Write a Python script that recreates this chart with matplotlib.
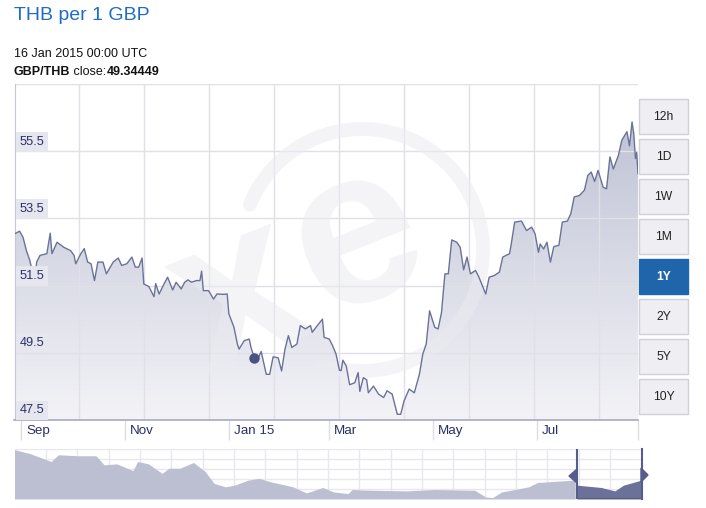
import numpy as np
import pandas as pd
import matplotlib
matplotlib.use("Agg")
import matplotlib.pyplot as plt
import matplotlib.dates as mdates
from matplotlib.colors import LinearSegmentedColormap
from matplotlib.patches import Rectangle, Polygon, Arc, PathPatch
from matplotlib.path import Path
from matplotlib.transforms import Affine2D, ScaledTranslation, blended_transform_factory

plt.rcParams['font.family'] = ['Liberation Sans', 'DejaVu Sans']

W, H = 706, 508

# GBP/THB, last year
dates = [
    '2014-08-28', '2014-08-31', '2014-09-02', '2014-09-04', '2014-09-06', '2014-09-08',
    '2014-09-09', '2014-09-10', '2014-09-12', '2014-09-16', '2014-09-18', '2014-09-19',
    '2014-09-22', '2014-09-26', '2014-09-30', '2014-10-02', '2014-10-03', '2014-10-06',
    '2014-10-08', '2014-10-10', '2014-10-12', '2014-10-14', '2014-10-16', '2014-10-19',
    '2014-10-21', '2014-10-25', '2014-10-28', '2014-10-30', '2014-11-02', '2014-11-05',
    '2014-11-07', '2014-11-09', '2014-11-11', '2014-11-12', '2014-11-15', '2014-11-18',
    '2014-11-19', '2014-11-21', '2014-11-24', '2014-11-26', '2014-11-29', '2014-12-01',
    '2014-12-04', '2014-12-06', '2014-12-08', '2014-12-10', '2014-12-13', '2014-12-15',
    '2014-12-16', '2014-12-17', '2014-12-20', '2014-12-23', '2014-12-25', '2014-12-29',
    '2014-12-31', '2015-01-01', '2015-01-04', '2015-01-06', '2015-01-07', '2015-01-10',
    '2015-01-13', '2015-01-14', '2015-01-16', '2015-01-18', '2015-01-20', '2015-01-23',
    '2015-01-25', '2015-01-27', '2015-01-30', '2015-02-01', '2015-02-03', '2015-02-05',
    '2015-02-07', '2015-02-10', '2015-02-12', '2015-02-15', '2015-02-18', '2015-02-19',
    '2015-02-22', '2015-02-25', '2015-02-26', '2015-03-01', '2015-03-03', '2015-03-05',
    '2015-03-07', '2015-03-08', '2015-03-09', '2015-03-11', '2015-03-13', '2015-03-16',
    '2015-03-18', '2015-03-19', '2015-03-21', '2015-03-23', '2015-03-24', '2015-03-27',
    '2015-03-30', '2015-04-02', '2015-04-04', '2015-04-07', '2015-04-10', '2015-04-12',
    '2015-04-14', '2015-04-17', '2015-04-20', '2015-04-23', '2015-04-25', '2015-04-27',
    '2015-04-29', '2015-05-02', '2015-05-04', '2015-05-06', '2015-05-08', '2015-05-10',
    '2015-05-12', '2015-05-15', '2015-05-17', '2015-05-19', '2015-05-21', '2015-05-23',
    '2015-05-26', '2015-05-28', '2015-06-01', '2015-06-03', '2015-06-06', '2015-06-09',
    '2015-06-11', '2015-06-15', '2015-06-16', '2015-06-18', '2015-06-22', '2015-06-25',
    '2015-06-28', '2015-06-30', '2015-07-02', '2015-07-03', '2015-07-05', '2015-07-07',
    '2015-07-09', '2015-07-11', '2015-07-14', '2015-07-16', '2015-07-19', '2015-07-21',
    '2015-07-23', '2015-07-26', '2015-07-29', '2015-07-31', '2015-08-02', '2015-08-04',
    '2015-08-06', '2015-08-09', '2015-08-11', '2015-08-13', '2015-08-15', '2015-08-18',
    '2015-08-20', '2015-08-23', '2015-08-24 12:00', '2015-08-26', '2015-08-27',
    '2015-08-28', '2015-08-28 18:00', '2015-08-29 12:00',
]
rates = [
    53.04, 53.12, 52.94, 52.54, 52.25, 51.80, 51.65, 52.20, 52.40, 52.45, 53.06, 52.45,
    52.79, 52.64, 52.54, 52.40, 52.15, 52.45, 52.60, 52.20, 52.15, 51.65, 52.20, 52.20,
    51.85, 52.20, 52.32, 52.10, 52.15, 52.35, 52.05, 52.05, 52.32, 51.55, 51.47, 51.17,
    51.56, 51.25, 51.56, 51.75, 51.37, 51.60, 51.40, 51.60, 51.67, 51.60, 51.65, 51.65,
    51.93, 51.35, 51.35, 51.10, 51.25, 51.24, 51.25, 50.66, 50.26, 49.76, 49.61, 49.86,
    49.91, 49.66, 49.34449, 49.31, 49.54, 48.86, 48.86, 49.38, 49.35, 48.96, 49.61, 50.01,
    49.66, 49.76, 50.31, 50.21, 50.31, 50.11, 50.31, 50.50, 49.96, 49.91, 49.71, 49.46,
    48.98, 48.97, 49.28, 49.11, 48.55, 48.61, 48.91, 48.35, 48.76, 48.70, 48.31, 48.51,
    48.27, 48.17, 48.37, 48.27, 47.67, 47.67, 48.07, 48.42, 48.31, 48.86, 49.46, 49.76,
    50.75, 50.26, 50.21, 50.70, 51.85, 51.85, 52.86, 52.79, 52.64, 51.97, 52.35, 51.85,
    51.95, 51.75, 51.25, 51.75, 51.80, 51.90, 52.35, 52.45, 52.74, 53.39, 53.42, 53.14,
    53.24, 53.04, 52.49, 52.74, 52.59, 52.79, 52.20, 52.66, 52.70, 53.39, 53.42, 53.64,
    54.14, 54.18, 54.34, 54.78, 54.88, 54.60, 54.93, 54.43, 54.38, 55.33, 54.97, 55.38,
    55.83, 56.08, 55.66, 56.37, 56.03, 55.28, 55.46, 54.83,
]
marker_date = '2015-01-16'
marker_rate = 49.34449

y_ticks = [47.5, 49.5, 51.5, 53.5, 55.5, 57.5]
month_ticks = ['2014-09-01', '2014-11-01', '2015-01-01', '2015-03-01', '2015-05-01', '2015-07-01']
month_labels = ['Sep', 'Nov', 'Jan 15', 'Mar', 'May', 'Jul']
buttons = ['12h', '1D', '1W', '1M', '1Y', '2Y', '5Y', '10Y']
active_button = '1Y'

# long-range navigator series (approximate)
nav_dates = [
    '2005-12-20', '2006-03-20', '2006-07-15', '2006-08-25', '2006-12-10', '2007-03-25',
    '2007-05-10', '2007-07-20', '2007-10-20', '2007-11-15', '2008-01-15', '2008-04-01',
    '2008-05-10', '2008-07-10', '2008-09-25', '2008-12-01', '2009-01-20', '2009-03-25',
    '2009-05-15', '2009-08-01', '2009-10-01', '2009-12-05', '2010-04-10', '2010-06-25',
    '2010-09-25', '2010-11-25', '2011-02-15', '2011-03-10', '2011-06-20', '2012-01-10',
    '2012-06-15', '2013-01-30', '2013-04-01', '2013-05-10', '2013-07-01', '2013-09-15',
    '2013-12-01', '2014-01-20', '2014-06-20', '2014-08-20', '2014-08-30', '2015-01-15',
    '2015-04-01', '2015-05-20', '2015-08-29 12:00',
]
nav_rates = [
    76.5, 73.5, 67.75, 72.75, 72.0, 72.0, 65.25, 66.0, 61.0, 67.75, 66.0, 59.0,
    62.75, 62.75, 67.0, 60.25, 51.5, 49.0, 50.25, 54.0, 55.25, 52.75, 49.0, 44.5,
    48.5, 45.25, 44.0, 47.0, 46.5, 46.0, 47.0, 46.5, 41.5, 41.0, 45.25, 47.0,
    49.0, 52.25, 53.5, 54.0, 50.25, 48.5, 46.0, 50.25, 54.0,
]

x = mdates.date2num(pd.to_datetime(dates, format='mixed'))
y = np.array(rates)
nx = mdates.date2num(pd.to_datetime(nav_dates, format='mixed'))
ny = np.array(nav_rates)
x_left = mdates.date2num(pd.Timestamp('2014-08-28'))
x_right = x[-1]
ymin, ymax = y_ticks[0], y_ticks[-1]


def box(left, top, width, height):
    return [left / W, 1 - (top + height) / H, width / W, height / H]


fig = plt.figure(figsize=(W / 100, H / 100), dpi=100)
# pixel coordinates, origin top-left
px = Affine2D().scale(1 / W, -1 / H).translate(0, 1) + fig.transFigure

# header
fig.text(14 / W, 1 - 20 / H, 'THB per 1 GBP', fontsize=14, color='#1d6cc8', va='baseline')
fig.text(14 / W, 1 - 57 / H, '16 Jan 2015 00:00 UTC', fontsize=9, color='#111111', va='baseline')
renderer = fig.canvas.get_renderer()
cx = 14 / W
for part, wt in [('GBP/THB', 'bold'), (' close:', 'normal'), ('49.34449', 'bold')]:
    t = fig.text(cx, 1 - 75 / H, part, fontsize=9, fontweight=wt, color='#111111', va='baseline')
    cx = fig.transFigure.inverted().transform(t.get_window_extent(renderer))[1][0]

# main chart
ax = fig.add_axes(box(14.5, 84, 623.5, 336))
ax.set_xlim(x_left, x_right)
ax.set_ylim(ymin, ymax)
ax.set_axisbelow('line')

cmap = LinearSegmentedColormap.from_list('fade', ['#f3f3f7', '#b9bdd1'])
grad = np.linspace(0, 1, 256).reshape(-1, 1)
im = ax.imshow(grad, extent=[x_left, x_right, ymin, ymax], origin='lower',
               aspect='auto', cmap=cmap, zorder=0.6)
verts = np.vstack([[x[0], ymin], np.column_stack([x, y]), [x[-1], ymin], [x[0], ymin]])
clip = PathPatch(Path(verts, closed=True), transform=ax.transData, fc='none', ec='none')
ax.add_patch(clip)
im.set_clip_path(clip)

ax.set_yticks(y_ticks)
ax.yaxis.grid(True, color='#e0e0e6', lw=1)
ax.tick_params(left=False, labelleft=False)
for k in range(1, 10):
    ax.plot([k * 64.9 / 623.5] * 2, [0, 1], transform=ax.transAxes, color='#e0e0e6', lw=1, zorder=1.5)

# xe watermark
wm = '#ebecf1'
ax.add_patch(Arc((362, 250), 242, 242, theta1=-158, theta2=108, transform=px,
                 color=wm, lw=10, alpha=0.55, capstyle='round', zorder=2))
ax.text(240, 300, 'x', transform=px, fontsize=160, fontweight='bold', color=wm, alpha=0.55,
        rotation=22, ha='center', va='center', zorder=2)
ax.text(357, 240, 'e', transform=px, fontsize=160, fontweight='bold', color=wm, alpha=0.55,
        rotation=22, ha='center', va='center', zorder=2)

ax.plot(x, y, color='#6b7299', lw=1, zorder=3)
ax.plot(mdates.date2num(pd.Timestamp(marker_date)), marker_rate, 'o', color='#4b5283',
        ms=6.5, zorder=4)

ylab_tr = blended_transform_factory(ax.transAxes, ax.transData) + \
    ScaledTranslation(5 / 100, 3.5 / 100, fig.dpi_scale_trans)
for v in y_ticks[:-1]:
    ax.text(0, v, f'{v:.1f}', fontsize=9.2, color='#2b3068', va='bottom', ha='left',
            transform=ylab_tr, bbox=dict(boxstyle='square,pad=0.3', fc='#e6e6ef', ec='none'),
            zorder=5)

for s in ['top', 'right']:
    ax.spines[s].set_visible(False)
ax.spines['left'].set_color('#c3c6da')
ax.spines['bottom'].set_color('#a6aac4')
ax.spines['bottom'].set_linewidth(1.2)

mx = mdates.date2num(pd.to_datetime(month_ticks))
ax.set_xticks(list(mx) + [x_right])
ax.tick_params(axis='x', length=14.5, direction='out', color='#dcdde5', width=1, labelbottom=False)
lbl_tr = blended_transform_factory(ax.transData, ax.transAxes) + \
    ScaledTranslation(5 / 100, -14 / 100, fig.dpi_scale_trans)
for m, lab in zip(mx, month_labels):
    ax.text(m, 0, lab, transform=lbl_tr, fontsize=9.6, color='#283066', va='baseline', ha='left')

# range buttons
for i, b in enumerate(buttons):
    top = 99 + 40 * i
    on = b == active_button
    fig.add_artist(Rectangle((639, top), 49, 35, transform=px,
                             fc='#1f65ab' if on else '#efeff3',
                             ec='#1f65ab' if on else '#cfd0d8', lw=1))
    fig.text(663.5 / W, 1 - (top + 18) / H, b, fontsize=8.7, ha='center', va='center',
             color='white' if on else '#222222', fontweight='bold' if on else 'normal')

# navigator
nav = fig.add_axes(box(14.5, 449, 627, 50))
nav.set_xlim(nx[0], nx[-1])
nav.set_ylim(40, 77)
nav.set_yticks(np.linspace(40, 77, 6)[1:])
nav.yaxis.grid(True, color='#e8e8ec', lw=1)
for k in range(1, 20):
    nav.plot([k / 20] * 2, [0, 1], transform=nav.transAxes, color='#e8e8ec', lw=1, zorder=1)
nav.set_axisbelow(True)
nav.tick_params(left=False, bottom=False, labelleft=False, labelbottom=False)
for s in nav.spines.values():
    s.set_visible(False)
sel = nx >= x_left
nav.fill_between(nx, ny, 40, where=nx <= x_left + 1, color='#bcbfd1', lw=0, zorder=2)
nav.fill_between(nx, ny, 40, where=sel, color='#6b7199', lw=0, zorder=2)
nav.plot([x_left, x_left], [40, 77], color='#565c8c', lw=1.5, zorder=3)
nav.plot([nx[-1], nx[-1]], [40, 77], color='#565c8c', lw=1.5, zorder=3, clip_on=False)
nav.plot([x_left, nx[-1]], [40, 40], color='#565c8c', lw=1.5, zorder=3)
fig.add_artist(Polygon([(577, 469), (569, 476), (577, 483)], transform=px, color='#565c8c'))
fig.add_artist(Polygon([(641, 468), (648, 475), (641, 482)], transform=px, color='#565c8c'))

fig.savefig('out.png', dpi=100)
